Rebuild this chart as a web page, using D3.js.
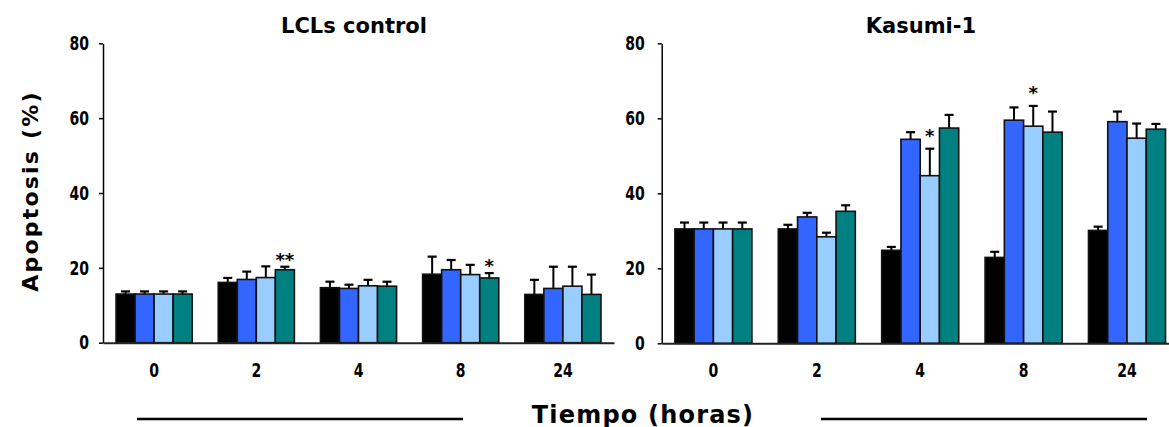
<!DOCTYPE html>
<html>
<head>
<meta charset="utf-8">
<script src="https://cdn.jsdelivr.net/npm/d3@7/dist/d3.min.js"></script>
<style>
  html, body { margin: 0; padding: 0; background: #fff; }
  svg { display: block; }
  .tick text { font-family: "DejaVu Sans Condensed", "DejaVu Sans", sans-serif; font-weight: bold; font-size: 19.5px; fill: #000; }
  .title, .axis-title { font-family: "DejaVu Sans", Verdana, sans-serif; font-weight: bold; fill: #000; }
  .mark { font-family: "DejaVu Sans", sans-serif; font-weight: bold; font-size: 18px; fill: #000; }
</style>
</head>
<body>
<svg id="chart" width="1169" height="427"></svg>
<script>
// Time points (hours) shared by both panels
const categories = ["0", "2", "4", "8", "24"];
const seriesColors = ["#000000", "#3366FF", "#99CCFF", "#008080"];
const yTicks = [0, 20, 40, 60, 80];

// LCLs control: mean apoptosis (%) per time point, four treatments each
const lclsMean = [
  [13.0, 13.0, 13.0, 13.0],
  [16.1, 16.9, 17.4, 19.5],
  [14.7, 14.5, 15.2, 15.1],
  [18.3, 19.5, 18.2, 17.3],
  [12.9, 14.5, 15.1, 12.9]
];
const lclsErr = [
  [0.7, 0.7, 0.7, 0.7],
  [1.2, 2.1, 3.0, 0.8],
  [1.6, 1.0, 1.6, 1.2],
  [4.7, 2.6, 2.6, 1.3],
  [3.9, 5.8, 5.2, 5.3]
];
const lclsMarks = [
  { group: "2", series: 3, label: "**" },
  { group: "8", series: 3, label: "*" }
];

// Kasumi-1
const kasumiMean = [
  [30.5, 30.5, 30.5, 30.5],
  [30.5, 33.7, 28.4, 35.2],
  [24.8, 54.4, 44.7, 57.4],
  [22.9, 59.5, 57.9, 56.3],
  [30.1, 59.1, 54.7, 57.1]
];
const kasumiErr = [
  [1.7, 1.7, 1.7, 1.7],
  [1.1, 1.1, 1.1, 1.6],
  [0.9, 1.9, 7.2, 3.5],
  [1.5, 3.4, 5.4, 5.5],
  [1.0, 2.7, 3.9, 1.4]
];
const kasumiMarks = [
  { group: "4", series: 2, label: "*" },
  { group: "8", series: 2, label: "*" }
];

const svg = d3.select("#chart");
const narrow = 0.8; // horizontal squeeze for the numeric tick labels

function drawPanel(opts) {
  const { title, means, errs, marks, x0, x1, yBottom, yTop, titleX, labelPad, markGap } = opts;

  const x = d3.scaleBand().domain(categories).range([x0, x1])
    .paddingInner(0.255).paddingOuter(0.1275);
  const xs = d3.scaleBand().domain(d3.range(seriesColors.length)).range([0, x.bandwidth()]);
  const y = d3.scaleLinear().domain([0, 80]).range([yBottom, yTop]);

  const g = svg.append("g");

  // bars
  const groups = g.selectAll("g.grp").data(categories).join("g")
    .attr("class", "grp")
    .attr("transform", d => `translate(${x(d)},0)`);

  const cells = groups.selectAll("g.cell")
    .data((d, i) => means[i].map((v, s) => ({ cat: d, s, v, e: errs[i][s] })))
    .join("g").attr("class", "cell");

  // error bars (upper only)
  cells.append("line")
    .attr("x1", d => xs(d.s) + xs.bandwidth() / 2)
    .attr("x2", d => xs(d.s) + xs.bandwidth() / 2)
    .attr("y1", d => y(d.v))
    .attr("y2", d => y(d.v + d.e))
    .attr("stroke", "#000").attr("stroke-width", 2);
  cells.append("line")
    .attr("x1", d => xs(d.s) + xs.bandwidth() / 2 - 4.5)
    .attr("x2", d => xs(d.s) + xs.bandwidth() / 2 + 4.5)
    .attr("y1", d => y(d.v + d.e))
    .attr("y2", d => y(d.v + d.e))
    .attr("stroke", "#000").attr("stroke-width", 2.2);

  cells.append("rect")
    .attr("x", d => xs(d.s))
    .attr("width", xs.bandwidth())
    .attr("y", d => y(d.v))
    .attr("height", d => y(0) - y(d.v))
    .attr("fill", d => seriesColors[d.s])
    .attr("stroke", "#111").attr("stroke-width", 1.6);

  // significance marks
  g.selectAll("text.mark").data(marks).join("text")
    .attr("class", "mark")
    .attr("text-anchor", "middle")
    .attr("x", d => x(d.group) + xs(d.series) + xs.bandwidth() / 2)
    .attr("y", d => {
      const i = categories.indexOf(d.group);
      return y(means[i][d.series] + errs[i][d.series]) - markGap;
    })
    .text(d => d.label);

  // y axis
  const ya = g.append("g")
    .attr("transform", `translate(${x0},0)`)
    .call(d3.axisLeft(y).tickValues(yTicks).tickSize(4).tickSizeOuter(0).tickPadding(labelPad));
  ya.select(".domain").attr("stroke", "#000").attr("stroke-width", 1.5);
  ya.selectAll(".tick line").attr("stroke", "#000").attr("stroke-width", 1.5);
  ya.selectAll(".tick text")
    .attr("x", -(4 + labelPad) / narrow)
    .attr("transform", `scale(${narrow},1)`);

  // x axis
  const xa = g.append("g")
    .attr("transform", `translate(0,${yBottom})`)
    .call(d3.axisBottom(x).tickSize(0).tickSizeOuter(0).tickPadding(20));
  xa.select(".domain").attr("stroke", "#222").attr("stroke-width", 2);
  xa.selectAll(".tick text").attr("transform", `scale(${narrow},1)`);

  g.append("text").attr("class", "title")
    .attr("x", titleX).attr("y", 33)
    .attr("text-anchor", "middle")
    .style("font-size", "21px")
    .text(title);
}

drawPanel({
  title: "LCLs control", means: lclsMean, errs: lclsErr, marks: lclsMarks,
  x0: 103, x1: 614, yBottom: 342.7, yTop: 43.3, titleX: 354, labelPad: 10, markGap: 1
});
drawPanel({
  title: "Kasumi-1", means: kasumiMean, errs: kasumiErr, marks: kasumiMarks,
  x0: 661.7, x1: 1178.7, yBottom: 343.3, yTop: 43.3, titleX: 921, labelPad: 13, markGap: 7
});

// shared axis titles
svg.append("text").attr("class", "axis-title")
  .attr("transform", "translate(38,191) rotate(-90)")
  .attr("text-anchor", "middle")
  .style("font-size", "22px").style("letter-spacing", "2.2px")
  .text("Apoptosis (%)");

svg.append("text").attr("class", "axis-title")
  .attr("x", 643).attr("y", 422.5)
  .attr("text-anchor", "middle")
  .style("font-size", "24px").style("letter-spacing", "1.2px")
  .text("Tiempo (horas)");

svg.append("line").attr("x1", 137).attr("x2", 463).attr("y1", 419).attr("y2", 419)
  .attr("stroke", "#000").attr("stroke-width", 2.5);
svg.append("line").attr("x1", 821).attr("x2", 1147).attr("y1", 419).attr("y2", 419)
  .attr("stroke", "#000").attr("stroke-width", 2.5);
</script>
</body>
</html>
